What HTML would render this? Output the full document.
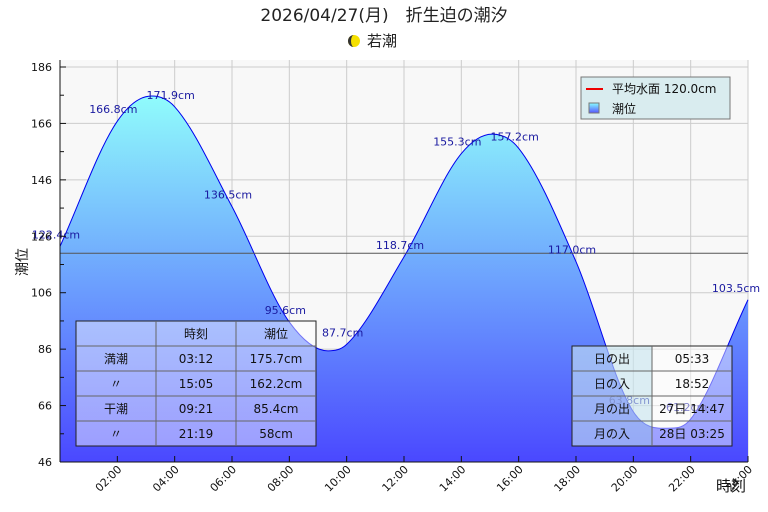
<!DOCTYPE html>
<html><head><meta charset="utf-8"><style>
body{margin:0;background:#fff;font-family:"DejaVu Sans","Noto Sans CJK JP",sans-serif;}
</style></head><body>
<svg width="768" height="512" xmlns="http://www.w3.org/2000/svg" style="display:block;font-family:'DejaVu Sans','Noto Sans CJK JP',sans-serif">
<defs>
<linearGradient id="fillg" x1="0" y1="0" x2="0" y2="1">
<stop offset="0" stop-color="#90fcfc"/><stop offset="1" stop-color="#4a48ff"/>
</linearGradient>
<linearGradient id="legg" x1="0" y1="0" x2="0" y2="1">
<stop offset="0" stop-color="#8ff"/><stop offset="1" stop-color="#55f"/>
</linearGradient>
</defs>
<text x="384" y="21" font-size="17" text-anchor="middle" fill="#222">2026/04/27(月)　折生迫の潮汐</text>
<g>
<circle cx="354" cy="41" r="6" fill="#f5e000"/>
<path d="M354,35 A6,6 0 0 0 354,47 A3,6 0 0 1 354,35Z" fill="#333"/>
<text x="367" y="46" font-size="15" fill="#222">若潮</text>
</g>
<rect x="60" y="60" width="688" height="402" fill="#f8f8f8"/>
<g id="grid"></g>
<path id="area" fill="url(#fillg)" stroke="none"/>
<path id="line" fill="none" stroke="#0000ee" stroke-width="1"/>
<line id="mean" x1="60" x2="748" y1="253" y2="253" stroke="#555" stroke-width="1"/>
<g id="labels"></g>
<g id="axes"></g>
<text x="0" y="0" font-size="14" fill="#111" transform="translate(27,262) rotate(-90)" text-anchor="middle">潮位</text>
<text x="746" y="491" font-size="15" fill="#111" text-anchor="end">時刻</text>
<g>
<rect x="581" y="77" width="149" height="42" fill="#d9ecef" stroke="#777"/>
<line x1="586" y1="89" x2="603" y2="89" stroke="#e00" stroke-width="2"/>
<text x="612" y="93" font-size="12" fill="#111">平均水面 120.0cm</text>
<rect x="589" y="103" width="10" height="10" fill="url(#legg)" stroke="#777"/>
<text x="612" y="113" font-size="12" fill="#111">潮位</text>
</g>
<g font-size="12" fill="#111">
<rect x="76" y="321" width="240" height="125" fill="rgba(255,255,255,0.45)" stroke="#222"/>
<g stroke="#666"><line x1="156" y1="321" x2="156" y2="446"/><line x1="236" y1="321" x2="236" y2="446"/>
<line x1="76" y1="346" x2="316" y2="346"/><line x1="76" y1="371" x2="316" y2="371"/><line x1="76" y1="396" x2="316" y2="396"/><line x1="76" y1="421" x2="316" y2="421"/></g>
<g text-anchor="middle">
<text x="196" y="338">時刻</text><text x="276" y="338">潮位</text>
<text x="116" y="363">満潮</text><text x="196" y="363">03:12</text><text x="276" y="363">175.7cm</text>
<text x="116" y="388">〃</text><text x="196" y="388">15:05</text><text x="276" y="388">162.2cm</text>
<text x="116" y="413">干潮</text><text x="196" y="413">09:21</text><text x="276" y="413">85.4cm</text>
<text x="116" y="438">〃</text><text x="196" y="438">21:19</text><text x="276" y="438">58cm</text>
</g></g>
<g font-size="12" fill="#111">
<rect x="572" y="346" width="80" height="100" fill="rgba(200,230,240,0.6)"/>
<rect x="652" y="346" width="80" height="100" fill="rgba(255,255,255,0.45)"/>
<rect x="572" y="346" width="160" height="100" fill="none" stroke="#222"/>
<g stroke="#666"><line x1="652" y1="346" x2="652" y2="446"/><line x1="572" y1="371" x2="732" y2="371"/><line x1="572" y1="396" x2="732" y2="396"/><line x1="572" y1="421" x2="732" y2="421"/></g>
<g text-anchor="middle">
<text x="612" y="363">日の出</text><text x="692" y="363">05:33</text>
<text x="612" y="388">日の入</text><text x="692" y="388">18:52</text>
<text x="612" y="413">月の出</text><text x="692" y="413">27日 14:47</text>
<text x="612" y="438">月の入</text><text x="692" y="438">28日 03:25</text>
</g></g>
</svg>
<script>
const hours=[0,2,3.2,4,6,8,9.35,10,12,14,15.08,16,18,20,21.32,22,24];
const levels=[122.4,166.8,175.7,171.9,136.5,95.6,85.4,87.7,118.7,155.3,162.2,157.2,117.0,63.8,58,61.2,103.5];
const labelHours=[0,2,4,6,8,10,12,14,16,18,20,22,24];
const labelValues=[122.4,166.8,171.9,136.5,95.6,87.7,118.7,155.3,157.2,117.0,63.8,61.2,103.5];
const yTicks=[46,66,86,106,126,146,166,186];
const xTicks=["02:00","04:00","06:00","08:00","10:00","12:00","14:00","16:00","18:00","20:00","22:00","24:00"];
const meanLevel=120;
const NS="http://www.w3.org/2000/svg";
const X=h=>60+h*688/24, Y=v=>462-(v-46)*395/140;
function mk(t,a,p){const e=document.createElementNS(NS,t);for(const k in a)e.setAttribute(k,a[k]);p.appendChild(e);return e;}
const grid=document.getElementById('grid'),axes=document.getElementById('axes'),lab=document.getElementById('labels');
yTicks.forEach(v=>{const l=mk('line',{x1:60,x2:748,y1:Y(v),y2:Y(v),stroke:'#ccc'},grid);


const t=mk('text',{x:52,y:Y(v)+4,'font-size':11,'text-anchor':'end',fill:'#111'},axes);t.textContent=v;


mk('line',{x1:60,x2:66,y1:Y(v),y2:Y(v),stroke:'#111'},axes);
if(v<186)mk('line',{x1:60,x2:64,y1:Y(v+10),y2:Y(v+10),stroke:'#111'},axes);});
xTicks.forEach((s,i)=>{const h=(i+1)*2;const l=mk('line',{x1:X(h),x2:X(h),y1:60,y2:462,stroke:'#ccc'},grid);


mk('line',{x1:X(h),x2:X(h),y1:456,y2:462,stroke:'#111'},axes);
const t=mk('text',{x:0,y:0,'font-size':11,'text-anchor':'end',fill:'#111',transform:`translate(${X(h)+5},470) rotate(-45)`},axes);t.textContent=s;

});
mk('line',{x1:60,x2:60,y1:60,y2:462,stroke:'#111'},axes);
mk('line',{x1:60,x2:748,y1:462,y2:462,stroke:'#111'},axes);
const px=hours.map(X),py=levels.map(Y),n=px.length;
const d=[],m=[];for(let i=0;i<n-1;i++)d.push((py[i+1]-py[i])/(px[i+1]-px[i]));
for(let i=0;i<n;i++){if(i==0)m.push(d[0]);else if(i==n-1)m.push(d[n-2]);else m.push(d[i-1]*d[i]<=0?0:(d[i-1]+d[i])/2);}
let p=`M${px[0]},${py[0]}`;
for(let i=0;i<n-1;i++){const h=(px[i+1]-px[i])/3;p+=` C${px[i]+h},${py[i]+m[i]*h} ${px[i+1]-h},${py[i+1]-m[i+1]*h} ${px[i+1]},${py[i+1]}`;}
document.getElementById('line').setAttribute('d',p);
document.getElementById('area').setAttribute('d',p+` L${px[n-1]},462 L${px[0]},462Z`);
const mean=document.getElementById('mean');mean.setAttribute('y1',Y(meanLevel));mean.setAttribute('y2',Y(meanLevel));
labelHours.forEach((h,i)=>{const t=mk('text',{x:Math.min(X(h)-4,736),y:Y(labelValues[i])-8,'font-size':11,'text-anchor':'middle',fill:'#1a1aa0'},lab);
t.textContent=labelValues[i].toFixed(1)+'cm';

});
</script>
</body></html>
